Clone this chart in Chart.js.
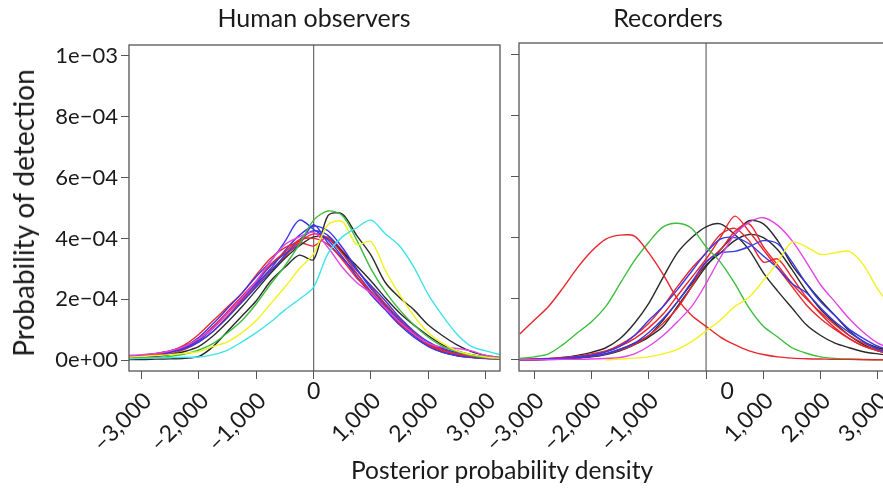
<!DOCTYPE html>
<html>
<head>
<meta charset="utf-8">
<script src="https://cdn.jsdelivr.net/npm/chart.js@4.4.1/dist/chart.umd.min.js"></script>
<style>
  html, body { margin: 0; padding: 0; background: #fff; overflow: hidden; }
  body { width: 883px; height: 488px; position: relative; font-family: Lato, sans-serif; color: #1a1a1a; }
  canvas { position: absolute; top: 0; }
  #leftChart { left: 0; }
  #rightChart { left: 460px; }
  .txt { position: absolute; white-space: nowrap; }
  #titleLeft { left: 314px; top: 2px; font-size: 25px; transform: translateX(-50%); }
  #titleRight { left: 668px; top: 2px; font-size: 25px; transform: translateX(-50%); }
  #yTitle { left: 23px; top: 213px; font-size: 28px; transform: translate(-50%, -50%) rotate(-90deg); }
  #xTitle { left: 502px; top: 455px; font-size: 24.5px; transform: translateX(-50%); }
</style>
</head>
<body>
<canvas id="leftChart" width="510" height="488"></canvas>
<canvas id="rightChart" width="445" height="488"></canvas>
<div class="txt" id="titleLeft">Human observers</div>
<div class="txt" id="titleRight">Recorders</div>
<div class="txt" id="yTitle">Probability of detection</div>
<div class="txt" id="xTitle">Posterior probability density</div>
<script>
// x grid of the density curves
const xGrid = [-3250, -3000, -2750, -2500, -2250, -2000, -1750, -1500, -1250, -1000, -750, -500, -250, 0,
  250, 500, 750, 1000, 1250, 1500, 1750, 2000, 2250, 2500, 2750, 3000, 3250];

const xTickValues = [-3000, -2000, -1000, 0, 1000, 2000, 3000];
const xTickLabels = ['–3,000', '–2,000', '–1,000', '0', '1,000', '2,000', '3,000'];
// y values are in units of 1e-04
const yTickValues = [0, 2, 4, 6, 8, 10];
const yTickLabels = ['0e+00', '2e−04', '4e−04', '6e−04', '8e−04', '1e−03'];

// Human observers (units 1e-04)
const humanRed1 = [0.10, 0.14, 0.20, 0.30, 0.45, 0.70, 1.10, 1.60, 2.10, 2.60, 3.15, 3.55, 3.95, 4.00, 3.80, 3.30, 2.70, 2.25, 1.75, 1.20, 0.85, 0.50, 0.30, 0.20, 0.12, 0.08, 0.05];
const humanRed2 = [0.08, 0.12, 0.18, 0.30, 0.50, 0.85, 1.30, 1.75, 2.20, 2.80, 3.35, 3.70, 3.90, 4.15, 4.00, 3.50, 2.85, 2.20, 1.70, 1.25, 0.85, 0.52, 0.32, 0.18, 0.10, 0.06, 0.04];
const humanRed3 = [0.05, 0.08, 0.12, 0.20, 0.35, 0.60, 0.95, 1.45, 1.95, 2.45, 2.95, 3.40, 3.85, 3.75, 4.05, 3.60, 3.00, 2.40, 1.85, 1.35, 0.90, 0.55, 0.35, 0.20, 0.12, 0.08, 0.06];
const humanBlue1 = [0.12, 0.15, 0.22, 0.30, 0.45, 0.75, 1.20, 1.70, 2.20, 2.75, 3.25, 3.90, 4.60, 4.30, 3.95, 3.40, 2.75, 2.15, 1.65, 1.15, 0.75, 0.45, 0.25, 0.15, 0.10, 0.07, 0.05];
const humanBlue2 = [0.10, 0.13, 0.18, 0.28, 0.40, 0.65, 1.05, 1.55, 2.05, 2.50, 3.00, 3.60, 4.10, 4.40, 4.25, 3.70, 3.00, 2.35, 1.80, 1.30, 0.85, 0.50, 0.28, 0.15, 0.09, 0.06, 0.04];
const humanBlue3 = [0.08, 0.10, 0.15, 0.25, 0.38, 0.60, 0.95, 1.40, 1.90, 2.40, 2.90, 3.45, 3.95, 4.25, 4.10, 3.55, 2.95, 2.45, 1.95, 1.40, 0.95, 0.60, 0.38, 0.25, 0.17, 0.10, 0.06];
const humanBlue4 = [0.06, 0.10, 0.16, 0.26, 0.42, 0.68, 1.10, 1.55, 2.00, 2.55, 3.10, 3.50, 3.80, 4.45, 3.85, 3.35, 2.85, 2.25, 1.70, 1.20, 0.80, 0.45, 0.25, 0.14, 0.08, 0.05, 0.03];
const humanMagenta = [0.15, 0.18, 0.22, 0.30, 0.45, 0.70, 1.05, 1.55, 2.05, 2.60, 3.25, 3.80, 4.05, 4.20, 3.70, 3.05, 2.55, 2.20, 1.70, 1.25, 0.85, 0.55, 0.42, 0.38, 0.30, 0.15, 0.08];
const humanGreen = [0.04, 0.06, 0.08, 0.12, 0.20, 0.33, 0.55, 0.90, 1.30, 1.85, 2.50, 3.10, 3.80, 4.60, 4.90, 4.75, 3.95, 3.00, 2.25, 1.65, 1.15, 0.75, 0.45, 0.28, 0.15, 0.08, 0.05];
const humanBlack1 = [0.02, 0.02, 0.03, 0.04, 0.06, 0.12, 0.45, 0.95, 1.45, 1.95, 2.60, 3.05, 3.45, 3.30, 4.75, 4.80, 4.10, 3.45, 2.55, 2.05, 1.65, 1.15, 0.80, 0.50, 0.28, 0.15, 0.08];
const humanBlack2 = [0.05, 0.08, 0.12, 0.18, 0.28, 0.45, 0.80, 1.25, 1.75, 2.30, 2.85, 3.35, 3.75, 4.05, 4.00, 3.55, 3.10, 2.60, 2.05, 1.55, 1.15, 0.80, 0.50, 0.30, 0.18, 0.10, 0.06];
const humanCyan = [0.05, 0.06, 0.07, 0.08, 0.09, 0.10, 0.18, 0.33, 0.60, 0.90, 1.25, 1.65, 2.00, 2.40, 3.50, 4.05, 4.35, 4.60, 4.15, 3.75, 3.05, 2.15, 1.45, 0.85, 0.45, 0.30, 0.18];
const humanYellow = [0.10, 0.12, 0.15, 0.18, 0.22, 0.28, 0.45, 0.60, 0.90, 1.30, 1.85, 2.40, 3.00, 3.50, 4.45, 4.55, 3.80, 3.90, 2.95, 2.15, 1.45, 0.90, 0.55, 0.30, 0.18, 0.10, 0.06];

// Recorders (units 1e-04)
const recRed1 = [0.85, 1.30, 1.75, 2.35, 3.00, 3.55, 3.95, 4.08, 4.05, 3.50, 2.80, 2.00, 1.45, 1.10, 0.75, 0.50, 0.30, 0.18, 0.10, 0.06, 0.04, 0.03, 0.02, 0.02, 0.01, 0.01, 0.01];
const recGreen = [0.05, 0.10, 0.20, 0.50, 0.88, 1.25, 1.75, 2.50, 3.25, 3.85, 4.35, 4.47, 4.30, 3.70, 3.20, 2.50, 1.70, 1.10, 0.75, 0.40, 0.22, 0.10, 0.05, 0.03, 0.02, 0.01, 0.01];
const recYellow = [null, null, null, null, null, null, 0.00, 0.03, 0.06, 0.10, 0.20, 0.35, 0.60, 0.95, 1.30, 1.75, 2.05, 2.60, 3.20, 3.85, 3.70, 3.45, 3.50, 3.55, 3.10, 2.30, 1.70];
const recMagenta = [0.01, 0.01, 0.01, 0.02, 0.02, 0.03, 0.05, 0.08, 0.20, 0.45, 0.80, 1.25, 1.75, 2.50, 3.35, 4.10, 4.50, 4.65, 4.40, 3.90, 3.20, 2.45, 1.90, 1.35, 0.90, 0.55, 0.35];
const recBlack1 = [0.01, 0.02, 0.04, 0.08, 0.15, 0.25, 0.40, 0.70, 1.20, 1.85, 2.70, 3.50, 4.00, 4.35, 4.45, 4.10, 3.60, 2.85, 2.25, 1.70, 1.15, 0.80, 0.55, 0.40, 0.27, 0.20, 0.15];
const recBlack2 = [0.01, 0.01, 0.02, 0.03, 0.06, 0.10, 0.18, 0.30, 0.50, 0.75, 1.10, 1.75, 2.40, 3.05, 3.60, 4.10, 4.55, 4.45, 3.90, 3.10, 2.50, 1.95, 1.45, 0.95, 0.60, 0.40, 0.28];
const recBlack3 = [0.01, 0.01, 0.02, 0.04, 0.07, 0.12, 0.20, 0.35, 0.55, 0.80, 1.30, 1.90, 2.50, 3.10, 3.50, 3.90, 4.10, 4.00, 3.60, 2.95, 2.25, 1.65, 1.20, 0.80, 0.50, 0.30, 0.20];
const recRed2 = [0.02, 0.03, 0.05, 0.08, 0.12, 0.20, 0.30, 0.45, 0.70, 1.05, 1.50, 2.10, 2.70, 3.30, 4.00, 4.70, 4.20, 3.60, 3.00, 2.40, 1.80, 1.35, 1.00, 0.70, 0.45, 0.30, 0.20];
const recRed3 = [0.01, 0.02, 0.04, 0.06, 0.10, 0.16, 0.28, 0.50, 0.80, 1.20, 1.75, 2.40, 3.00, 3.50, 4.10, 4.30, 3.90, 3.20, 3.30, 2.70, 2.05, 1.50, 1.05, 0.70, 0.45, 0.30, 0.18];
const recRed4 = [0.01, 0.02, 0.03, 0.05, 0.08, 0.12, 0.20, 0.32, 0.50, 0.80, 1.20, 1.70, 2.40, 3.20, 3.60, 4.20, 4.45, 3.70, 3.10, 2.50, 2.00, 1.55, 1.15, 0.80, 0.55, 0.35, 0.22];
const recBlue1 = [0.01, 0.02, 0.04, 0.06, 0.10, 0.16, 0.26, 0.45, 0.80, 1.30, 1.75, 2.30, 2.90, 3.50, 3.95, 4.00, 3.80, 3.40, 3.00, 2.50, 2.20, 1.70, 1.25, 0.90, 0.60, 0.35, 0.22];
const recBlue2 = [0.01, 0.02, 0.03, 0.05, 0.08, 0.12, 0.20, 0.35, 0.55, 0.90, 1.35, 1.90, 2.55, 3.20, 3.50, 3.55, 3.70, 3.90, 3.80, 3.20, 2.50, 1.90, 1.45, 1.00, 0.70, 0.45, 0.30];

const RED = '#e8262c';
const BLUE = '#3838e6';
const GREEN = '#3dbd3d';
const BLACK = '#2a2a2a';
const MAGENTA = '#e244e6';
const CYAN = '#3fe3ea';
const YELLOW = '#f2f21e';

function toPoints(arr) {
  return arr.map((v, i) => ({ x: xGrid[i], y: v }));
}

function makeSets(list) {
  return list.map(([arr, color]) => ({
    data: toPoints(arr),
    borderColor: color,
    borderWidth: 1.4,
    pointRadius: 0,
    tension: 0.3,
    fill: false,
  }));
}

// box around the plot, vertical line at 0 and the upright "0" tick label
const framePlugin = {
  id: 'frame',
  beforeDatasetsDraw(chart) {
    const { ctx, chartArea: a, scales } = chart;
    const x0 = scales.x.getPixelForValue(0);
    ctx.save();
    ctx.strokeStyle = '#6a6a6a';
    ctx.lineWidth = 1.2;
    ctx.beginPath();
    ctx.moveTo(x0, a.top);
    ctx.lineTo(x0, a.bottom);
    ctx.stroke();
    ctx.restore();
  },
  afterDatasetsDraw(chart) {
    const { ctx, chartArea: a } = chart;
    ctx.save();
    ctx.strokeStyle = '#555';
    ctx.lineWidth = 1.3;
    ctx.strokeRect(a.left, a.top, a.right - a.left, a.bottom - a.top);
    ctx.restore();
  },
  afterDraw(chart, args, opts) {
    const { ctx, chartArea: a, scales } = chart;
    const x0 = scales.x.getPixelForValue(0);
    ctx.save();
    ctx.font = '23px Lato, sans-serif';
    ctx.fillStyle = '#1a1a1a';
    ctx.textAlign = 'center';
    ctx.textBaseline = 'top';
    ctx.fillText(xTickLabels[xTickValues.indexOf(0)], x0 + opts.zeroShift, a.bottom + 9);
    ctx.restore();
  },
};

Chart.defaults.font.family = 'Lato, sans-serif';
Chart.defaults.font.size = 21;
Chart.defaults.color = '#1a1a1a';

function makeConfig(sets, opts) {
  return {
    type: 'line',
    data: { datasets: sets },
    options: {
      responsive: false,
      animation: false,
      layout: { padding: { top: opts.top, right: opts.right, left: 0, bottom: 0 } },
      plugins: {
        legend: { display: false },
        tooltip: { enabled: false },
        frame: { zeroShift: opts.zeroShift },
      },
      scales: {
        x: {
          type: 'linear',
          min: opts.xMin,
          max: opts.xMax,
          afterBuildTicks(scale) {
            scale.ticks = xTickValues.map((v) => ({ value: v }));
          },
          afterFit(scale) {
            scale.height = 488 - 371;
            scale.paddingLeft = 0;
            scale.paddingRight = 0;
          },
          ticks: {
            font: { size: 23 },
            minRotation: 45,
            maxRotation: 45,
            labelOffset: 6,
            padding: 8,
            callback: (v) => (v === 0 ? '' : xTickLabels[xTickValues.indexOf(v)]),
          },
          grid: { drawOnChartArea: false, drawTicks: true, tickLength: 8, color: '#555' },
          border: { display: false },
        },
        y: {
          type: 'linear',
          min: -0.36,
          max: 10.36,
          afterBuildTicks(scale) {
            scale.ticks = yTickValues.map((v) => ({ value: v }));
          },
          afterFit(scale) {
            scale.width = opts.yWidth;
            scale.paddingTop = 0;
            scale.paddingBottom = 0;
          },
          ticks: {
            font: { size: 22 },
            padding: 3,
            callback: (v) => (opts.showY ? yTickLabels[yTickValues.indexOf(v)] : ''),
          },
          grid: { drawOnChartArea: false, drawTicks: true, tickLength: 8, color: '#555' },
          border: { display: false },
        },
      },
    },
    plugins: [framePlugin],
  };
}

const humanSets = makeSets([
  [humanCyan, CYAN],
  [humanYellow, YELLOW],
  [humanGreen, GREEN],
  [humanMagenta, MAGENTA],
  [humanRed1, RED],
  [humanBlue1, BLUE],
  [humanRed2, RED],
  [humanBlue2, BLUE],
  [humanBlack2, BLACK],
  [humanBlue3, BLUE],
  [humanRed3, RED],
  [humanBlue4, BLUE],
  [humanBlack1, BLACK],
]);

const recSets = makeSets([
  [recYellow, YELLOW],
  [recMagenta, MAGENTA],
  [recRed1, RED],
  [recGreen, GREEN],
  [recBlue1, BLUE],
  [recBlue2, BLUE],
  [recRed3, RED],
  [recRed2, RED],
  [recRed4, RED],
  [recBlack3, BLACK],
  [recBlack1, BLACK],
  [recBlack2, BLACK],
]);

new Chart(document.getElementById('leftChart'), makeConfig(humanSets, {
  top: 45, right: 10, xMin: -3220, xMax: 3250, yWidth: 129, showY: true, zeroShift: 0,
}));

new Chart(document.getElementById('rightChart'), makeConfig(recSets, {
  top: 43, right: 15, xMin: -3265, xMax: 3210, yWidth: 59, showY: false, zeroShift: 21,
}));
</script>
</body>
</html>
